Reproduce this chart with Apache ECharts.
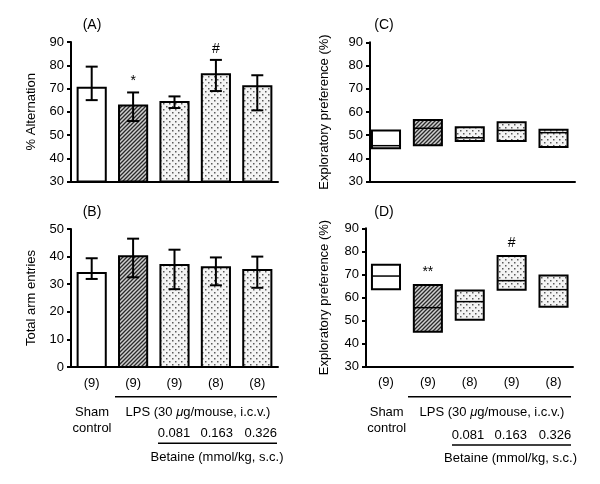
<!DOCTYPE html>
<html>
<head>
<meta charset="utf-8">
<script src="https://cdn.jsdelivr.net/npm/echarts@6/dist/echarts.min.js"></script>
<style>html,body{margin:0;padding:0;background:#fff}#c{width:600px;height:484px}</style>
</head>
<body>
<div id="c"></div>
<script>
// ---- data ----
var groups = ['Sham control', 'LPS', 'LPS + Betaine 0.081', 'LPS + Betaine 0.163', 'LPS + Betaine 0.326'];
// (A) % Alternation
var altMean = [70.3, 62.7, 64.2, 76.1, 71.0];
var altHigh = [79.4, 68.3, 66.6, 82.3, 75.7];
var altLow  = [65.0, 56.0, 61.6, 68.9, 60.6];
var altMarks = ['', '*', '', '#', ''];
// (B) Total arm entries
var armMean = [34.1, 40.1, 37.0, 36.1, 35.1];
var armHigh = [39.4, 46.5, 42.5, 39.7, 40.0];
var armLow  = [31.9, 32.5, 28.2, 29.6, 28.7];
var nAB = ['(9)', '(9)', '(9)', '(8)', '(8)'];
// (C) Exploratory preference, training (box: low / median / high)
var cHigh = [52.0, 56.6, 53.4, 55.6, 52.4];
var cMed  = [45.5, 53.0, 48.9, 52.1, 51.1];
var cLow  = [44.4, 45.7, 47.5, 47.5, 44.9];
// (D) Exploratory preference, retention
var dHigh = [74.2, 65.4, 63.0, 78.0, 69.5];
var dMed  = [69.3, 55.6, 58.2, 67.3, 63.4];
var dLow  = [63.6, 45.2, 50.4, 63.4, 56.0];
var dMarks = ['', '**', '', '#', ''];
var nCD = ['(9)', '(9)', '(8)', '(9)', '(8)'];
var doseLabels = ['0.081', '0.163', '0.326'];

// ---- patterns ----
var FONT = 'Liberation Sans, Arial, Helvetica, sans-serif';
function hatch() {
  var c = document.createElement('canvas'); c.width = 4; c.height = 4;
  var g = c.getContext('2d');
  g.fillStyle = '#cfcfcf'; g.fillRect(0, 0, 4, 4);
  g.strokeStyle = '#2a2a2a'; g.lineWidth = 1.3;
  g.beginPath();
  g.moveTo(-1, 5); g.lineTo(5, -1);
  g.moveTo(-1, 1); g.lineTo(1, -1);
  g.moveTo(3, 5); g.lineTo(5, 3);
  g.stroke();
  return {image: c, repeat: 'repeat'};
}
function dots() {
  var c = document.createElement('canvas'); c.width = 6; c.height = 6;
  var g = c.getContext('2d');
  g.fillStyle = '#f4f4f4'; g.fillRect(0, 0, 6, 6);
  g.fillStyle = '#5a5a5a';
  g.fillRect(1, 1, 1.5, 1.5);
  g.fillRect(4, 4, 1.5, 1.5);
  return {image: c, repeat: 'repeat'};
}
var fills = ['#ffffff', hatch(), dots(), dots(), dots()];

function barRender(means, lows, highs, marks, yMin) {
  return function (params, api) {
    var i = params.dataIndex;
    var x = api.value(0);
    var base = api.coord([x, yMin]);
    var top = api.coord([x, means[i]]);
    var hi = api.coord([x, highs[i]]);
    var lo = api.coord([x, lows[i]]);
    var w = api.size([1, 0])[0] * 0.68;
    var cw = 6;
    var ch = [
      {type: 'rect', shape: {x: top[0] - w / 2, y: top[1], width: w, height: base[1] - top[1]},
        style: {fill: fills[i], stroke: '#000', lineWidth: 2}},
      {type: 'line', shape: {x1: top[0], y1: hi[1], x2: top[0], y2: lo[1]}, style: {stroke: '#000', lineWidth: 2}},
      {type: 'line', shape: {x1: top[0] - cw, y1: hi[1], x2: top[0] + cw, y2: hi[1]}, style: {stroke: '#000', lineWidth: 2}},
      {type: 'line', shape: {x1: top[0] - cw, y1: lo[1], x2: top[0] + cw, y2: lo[1]}, style: {stroke: '#000', lineWidth: 2}}
    ];
    if (marks && marks[i]) {
      ch.push({type: 'text', x: top[0], y: hi[1] - 4,
        style: {text: marks[i], textAlign: 'center', textVerticalAlign: 'bottom', font: '14px ' + FONT, fill: '#000'}});
    }
    return {type: 'group', children: ch};
  };
}
function boxRender(lows, meds, highs, marks, labels, yMin) {
  return function (params, api) {
    var i = params.dataIndex;
    var x = api.value(0);
    var t = api.coord([x, highs[i]]);
    var b = api.coord([x, lows[i]]);
    var m = api.coord([x, meds[i]]);
    var w = api.size([1, 0])[0] * 0.67;
    var ch = [
      {type: 'rect', shape: {x: t[0] - w / 2, y: t[1], width: w, height: b[1] - t[1]},
        style: {fill: fills[i], stroke: '#000', lineWidth: 2}},
      {type: 'line', shape: {x1: t[0] - w / 2, y1: m[1], x2: t[0] + w / 2, y2: m[1]}, style: {stroke: '#000', lineWidth: 1.5}}
    ];
    if (marks && marks[i]) {
      ch.push({type: 'text', x: t[0], y: t[1] - 6,
        style: {text: marks[i], textAlign: 'center', textVerticalAlign: 'bottom', font: '14px ' + FONT, fill: '#000'}});
    }
    if (labels) {
      var a = api.coord([x, yMin]);
      ch.push({type: 'text', x: a[0], y: a[1] + 16,
        style: {text: labels[i], textAlign: 'center', textVerticalAlign: 'middle', font: '13px ' + FONT, fill: '#000'}});
    }
    return {type: 'group', children: ch};
  };
}

var axLine = {lineStyle: {color: '#000', width: 2}};
function yAx(idx, min, max, name, gap) {
  return {gridIndex: idx, type: 'value', min: min, max: max, interval: 10,
    name: name, nameLocation: 'middle', nameGap: gap,
    nameTextStyle: {fontFamily: FONT, fontSize: 13, color: '#000'},
    axisLine: {show: true, lineStyle: {color: '#000', width: 2}},
    axisTick: {show: true, length: 4, lineStyle: {color: '#000', width: 2}},
    axisLabel: {fontFamily: FONT, fontSize: 13, color: '#000', margin: 7},
    splitLine: {show: false}};
}
function idxData(n) { var a = []; for (var i = 0; i < n; i++) a.push([i]); return a; }
function posData(n) { var a = []; for (var i = 0; i < n; i++) a.push([i + 1]); return a; }

var option = {
  backgroundColor: '#fff',
  animation: false,
  grid: [
    {left: 71, top: 42, width: 207, height: 139.5},
    {left: 71, top: 229, width: 207, height: 138},
    {left: 370, top: 42.3, width: 205, height: 139.4},
    {left: 366, top: 228.3, width: 207, height: 138.4}
  ],
  xAxis: [
    {gridIndex: 0, type: 'category', data: groups, axisLine: axLine, axisTick: {show: false}, axisLabel: {show: false}},
    {gridIndex: 1, type: 'category', data: nAB, axisLine: axLine, axisTick: {show: false},
      axisLabel: {fontFamily: FONT, fontSize: 13, color: '#000', margin: 10}},
    {gridIndex: 2, type: 'value', min: 0.618, max: 5.513, axisLine: axLine, axisTick: {show: false},
      axisLabel: {show: false}, splitLine: {show: false}},
    {gridIndex: 3, type: 'value', min: 0.523, max: 5.465, axisLine: axLine, axisTick: {show: false},
      axisLabel: {show: false}, splitLine: {show: false}}
  ],
  yAxis: [
    yAx(0, 30, 90, '% Alternation', 33),
    yAx(1, 0, 50, 'Total arm entries', 33),
    yAx(2, 30, 90, 'Exploratory preference (%)', 39),
    yAx(3, 30, 90, 'Exploratory preference (%)', 35)
  ],
  series: [
    {type: 'custom', xAxisIndex: 0, yAxisIndex: 0, data: idxData(groups.length),
      renderItem: barRender(altMean, altLow, altHigh, altMarks, 30)},
    {type: 'custom', xAxisIndex: 1, yAxisIndex: 1, data: idxData(groups.length),
      renderItem: barRender(armMean, armLow, armHigh, null, 0)},
    {type: 'custom', xAxisIndex: 2, yAxisIndex: 2, data: posData(groups.length), clip: false,
      renderItem: boxRender(cLow, cMed, cHigh, null, null, 30)},
    {type: 'custom', xAxisIndex: 3, yAxisIndex: 3, data: posData(groups.length), clip: false,
      renderItem: boxRender(dLow, dMed, dHigh, dMarks, nCD, 30)}
  ],
  graphic: []
};

function txt(x, y, s, extra) {
  var st = {text: s, x: x, y: y, textAlign: 'center', textVerticalAlign: 'middle', font: '13px ' + FONT, fill: '#000'};
  if (extra) for (var k in extra) st[k] = extra[k];
  return {type: 'text', style: st, silent: true};
}
function hline(x1, x2, y) {
  return {type: 'line', shape: {x1: x1, y1: y, x2: x2, y2: y}, style: {stroke: '#000', lineWidth: 1.5}, silent: true};
}
var g = option.graphic;
g.push(txt(92, 25, '(A)', {font: '14px ' + FONT}));
g.push(txt(92, 212, '(B)', {font: '14px ' + FONT}));
g.push(txt(384, 25, '(C)', {font: '14px ' + FONT}));
g.push(txt(384, 212, '(D)', {font: '14px ' + FONT}));
function footer(cx0, lpsCx, lineL, lineR, doseX, doseY, line2L, line2Y, betCx, betY) {
  g.push(hline(lineL, lineR, 396.7));
  g.push(txt(cx0, 412, 'Sham'));
  g.push(txt(cx0, 428, 'control'));
  g.push({type: 'text', silent: true, style: {
    text: 'LPS (30 {i|\u03bc}g/mouse, i.c.v.)', rich: {i: {fontStyle: 'italic', fontFamily: FONT, fontSize: 13}},
    x: lpsCx, y: 412, textAlign: 'center', textVerticalAlign: 'middle', font: '13px ' + FONT, fill: '#000'}});
  for (var i = 0; i < doseLabels.length; i++) g.push(txt(doseX[i], doseY, doseLabels[i]));
  g.push(hline(line2L, lineR, line2Y));
  g.push(txt(betCx, betY, 'Betaine (mmol/kg, s.c.)'));
}
footer(92, 198, 115, 277, [174, 216.7, 260.7], 433.5, 158, 443.3, 217, 457);
footer(386.7, 492, 408, 571, [468, 510.7, 555], 435, 452, 445, 510.5, 458);

var chart = echarts.init(document.getElementById('c'), null, {renderer: 'canvas'});
chart.setOption(option);
</script>
</body>
</html>
